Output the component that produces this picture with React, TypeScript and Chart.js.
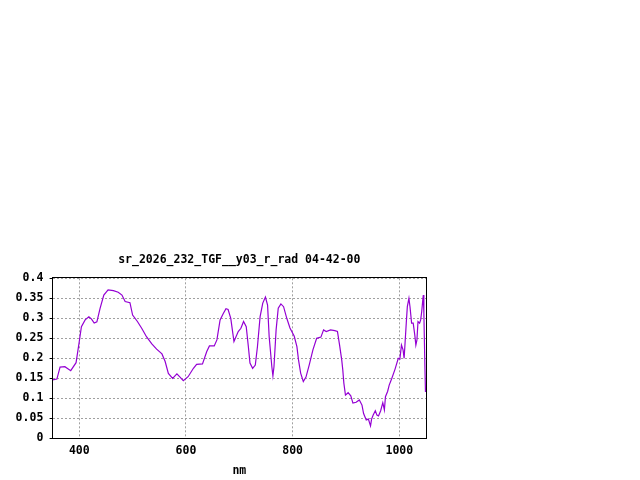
import React, { useEffect, useRef } from 'react';
import { Chart, registerables } from 'chart.js';

Chart.register(...registerables);

// wavelength (nm) and radiance
const wavelengths = [
  350, 358, 364, 373, 384, 394, 400, 404, 411, 418, 423, 428, 433, 439, 446, 454, 464, 473, 480, 486,
  495, 500, 509, 517, 526, 536, 545, 555, 561, 567, 575, 583, 588, 595, 604, 614, 620, 631, 639, 644,
  653, 658, 664, 670, 675, 679, 684, 690, 698, 703, 708, 713, 717, 720, 725, 730, 734, 739, 744, 749,
  753, 756, 761, 763, 765, 769, 773, 778, 783, 789, 795, 803, 808, 811, 815, 820, 825, 831, 838, 845,
  853, 858, 863, 871, 879, 884, 888, 892, 894, 896, 899, 904, 909, 913, 919, 925, 930, 933, 938, 942,
  946, 948, 951, 955, 958, 961, 965, 969, 972, 974, 978, 981, 986, 992, 998, 1001, 1004, 1007, 1009, 1013,
  1015, 1018, 1020, 1023, 1026, 1029, 1031, 1033, 1035, 1038, 1040, 1042, 1044, 1045, 1046, 1048, 1049,
];
const radiance = [
  0.146, 0.148, 0.178, 0.179, 0.169, 0.189, 0.242, 0.279, 0.296, 0.304, 0.298, 0.288, 0.291, 0.325, 0.358, 0.371, 0.369, 0.365, 0.358, 0.342,
  0.339, 0.308, 0.292, 0.275, 0.254, 0.236, 0.223, 0.211, 0.192, 0.162, 0.150, 0.161, 0.154, 0.144, 0.154, 0.175, 0.185, 0.186, 0.217, 0.231,
  0.231, 0.246, 0.296, 0.312, 0.324, 0.322, 0.300, 0.242, 0.267, 0.275, 0.292, 0.279, 0.229, 0.188, 0.175, 0.183, 0.229, 0.304, 0.338, 0.353,
  0.333, 0.254, 0.179, 0.156, 0.179, 0.271, 0.325, 0.336, 0.329, 0.300, 0.276, 0.255, 0.229, 0.196, 0.163, 0.142, 0.153, 0.183, 0.221, 0.250,
  0.253, 0.271, 0.267, 0.271, 0.269, 0.267, 0.233, 0.196, 0.171, 0.138, 0.108, 0.114, 0.106, 0.088, 0.090, 0.096, 0.083, 0.062, 0.046, 0.048,
  0.031, 0.048, 0.058, 0.069, 0.058, 0.056, 0.069, 0.089, 0.071, 0.104, 0.117, 0.133, 0.150, 0.173, 0.200, 0.198, 0.233, 0.221, 0.200, 0.288,
  0.329, 0.350, 0.329, 0.288, 0.288, 0.258, 0.233, 0.246, 0.292, 0.288, 0.296, 0.317, 0.346, 0.358, 0.313, 0.175, 0.116,
];

const xTicks = [400, 600, 800, 1000];
const yTickLabels = ['0', '0.05', '0.1', '0.15', '0.2', '0.25', '0.3', '0.35', '0.4'];

const font = { family: '"DejaVu Sans Mono", "Liberation Mono", monospace', size: 11.5, weight: 'bold' as const };

// gnuplot style closed border around the plot
const frame = {
  id: 'frame',
  afterDraw(chart: Chart) {
    const { ctx, chartArea: a } = chart;
    ctx.save();
    ctx.strokeStyle = '#000';
    ctx.lineWidth = 1;
    ctx.strokeRect(Math.round(a.left) - 0.5, Math.round(a.top) - 0.5, Math.round(a.right - a.left) + 1, Math.round(a.bottom - a.top) + 1);
    ctx.restore();
  },
};

const App = () => {
  const chartRef = useRef<HTMLCanvasElement>(null);

  useEffect(() => {
    if (!chartRef.current) return;
    const myChart = new Chart(chartRef.current, {
      type: 'line',
      data: {
        datasets: [
          {
            data: wavelengths.map((w, i) => ({ x: w, y: radiance[i] })),
            borderColor: '#9400d3',
            borderWidth: 1.2,
            pointRadius: 0,
            tension: 0,
          },
        ],
      },
      options: {
        animation: false,
        responsive: false,
        devicePixelRatio: 1,
        layout: { padding: { top: 253.1, right: 214, bottom: 0, left: 0 } },
        plugins: {
          legend: { display: false },
          tooltip: { enabled: false },
          title: {
            display: true,
            text: 'sr_2026_232_TGF__y03_r_rad 04-42-00',
            fullSize: false,
            color: '#000',
            font,
            padding: { top: 0, bottom: 11.4 },
          },
        },
        scales: {
          x: {
            type: 'linear',
            min: 350,
            max: 1050,
            afterBuildTicks: (scale: any) => {
              scale.ticks = xTicks.map((v) => ({ value: v }));
            },
            afterFit: (scale: any) => {
              scale.height = 41.7;
            },
            ticks: { color: '#000', font, padding: 6.3, maxRotation: 0, callback: (v: any) => String(v) },
            grid: { color: '#a0a0a0', drawTicks: false },
            border: { display: false, dash: [2, 2] },
            title: { display: true, text: 'nm', color: '#000', font, padding: 2 },
          },
          y: {
            min: 0,
            max: 0.4,
            afterFit: (scale: any) => {
              scale.width = 52.6;
            },
            ticks: {
              stepSize: 0.05,
              color: '#000',
              font,
              padding: 6.3,
              callback: (_v: any, i: number) => yTickLabels[i],
            },
            grid: { color: '#a0a0a0', tickLength: 3, tickColor: '#000' },
            border: { display: false, dash: [2, 2] },
          },
        },
      },
      plugins: [frame],
    });

    return () => {
      myChart.destroy();
    };
  }, []);

  return (
    <div style={{ position: 'absolute', left: 0, top: 0, width: 640, height: 480, background: '#fff' }}>
      <canvas ref={chartRef} width={640} height={480} />
    </div>
  );
};

export default App;
